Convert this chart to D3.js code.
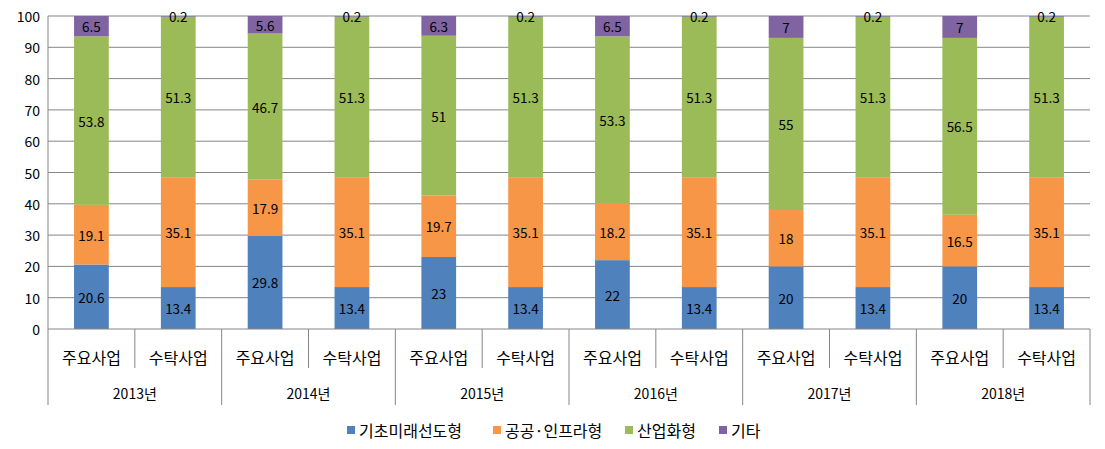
<!DOCTYPE html>
<html>
<head>
<meta charset="utf-8">
<style>
  body { margin: 0; background: #fff; }
  text { font-family: "Noto Sans CJK KR", "Noto Sans", sans-serif; fill: #000; }
</style>
</head>
<body>
<svg id="chart" width="1105" height="449"></svg>
<script src="https://cdn.jsdelivr.net/npm/d3@7"></script>
<script>
const years = ["2013년", "2014년", "2015년", "2016년", "2017년", "2018년"];
const kinds = ["주요사업", "수탁사업"];
const seriesNames = ["기초미래선도형", "공공·인프라형", "산업화형", "기타"];
const colors = ["#4F81BD", "#F79646", "#9BBB59", "#8064A2"];
const yTicks = [0, 10, 20, 30, 40, 50, 60, 70, 80, 90, 100];

// one row per bar: year x kind
const basic  = [20.6, 13.4, 29.8, 13.4, 23, 13.4, 22, 13.4, 20, 13.4, 20, 13.4];
const infra  = [19.1, 35.1, 17.9, 35.1, 19.7, 35.1, 18.2, 35.1, 18, 35.1, 16.5, 35.1];
const indust = [53.8, 51.3, 46.7, 51.3, 51, 51.3, 53.3, 51.3, 55, 51.3, 56.5, 51.3];
const other  = [6.5, 0.2, 5.6, 0.2, 6.3, 0.2, 6.5, 0.2, 7, 0.2, 7, 0.2];

const svg = d3.select("#chart");
const plotL = 48, plotR = 1090, plotT = 16, plotB = 329;

const rows = [];
years.forEach((y, i) => {
  kinds.forEach((k, j) => {
    const n = i * 2 + j;
    rows.push({ key: y + "|" + k, year: y, kind: k,
      s0: basic[n], s1: infra[n], s2: indust[n], s3: other[n] });
  });
});

const x = d3.scaleBand().domain(rows.map(d => d.key)).range([plotL, plotR]).paddingInner(0.6).paddingOuter(0.3);
const band = (plotR - plotL) / rows.length;
const yScale = d3.scaleLinear().domain([0, 100]).range([plotB, plotT]);

// gridlines
svg.append("g").selectAll("line").data(yTicks.filter(t => t > 0)).enter().append("line")
  .attr("x1", plotL).attr("x2", plotR)
  .attr("y1", d => yScale(d)).attr("y2", d => yScale(d))
  .attr("stroke", "#868686").attr("stroke-width", 1);

// y labels
svg.append("g").selectAll("text").data(yTicks).enter().append("text")
  .attr("x", 40).attr("y", d => yScale(d))
  .attr("text-anchor", "end").attr("dominant-baseline", "central")
  .attr("font-size", 14).text(d => d);

const stack = d3.stack().keys(["s0", "s1", "s2", "s3"]);
const layers = stack(rows);

const g = svg.append("g");
layers.forEach((layer, li) => {
  g.append("g").selectAll("rect").data(layer).enter().append("rect")
    .attr("x", d => x(d.data.key))
    .attr("width", x.bandwidth())
    .attr("y", d => yScale(d[1]))
    .attr("height", d => yScale(d[0]) - yScale(d[1]))
    .attr("fill", colors[li]);
});
layers.forEach((layer, li) => {
  g.append("g").selectAll("text").data(layer).enter().append("text")
    .attr("x", d => x(d.data.key) + x.bandwidth() / 2)
    .attr("y", d => (yScale(d[0]) + yScale(d[1])) / 2)
    .attr("text-anchor", "middle").attr("dominant-baseline", "central")
    .attr("font-size", 13.5)
    .text(d => d.data["s" + li]);
});

// axes lines
svg.append("line").attr("x1", plotL).attr("x2", plotL).attr("y1", plotT).attr("y2", 405)
  .attr("stroke", "#868686");
svg.append("line").attr("x1", plotL).attr("x2", plotR).attr("y1", plotB).attr("y2", plotB)
  .attr("stroke", "#868686");

// category separators
rows.forEach((d, i) => {
  const xr = plotL + band * (i + 1);
  const outer = i % 2 === 1;
  svg.append("line").attr("x1", xr).attr("x2", xr)
    .attr("y1", plotB).attr("y2", outer ? 405 : 368)
    .attr("stroke", "#868686");
});

svg.append("g").selectAll("text").data(rows).enter().append("text")
  .attr("x", d => x(d.key) + x.bandwidth() / 2)
  .attr("y", 357)
  .attr("text-anchor", "middle").attr("dominant-baseline", "central")
  .attr("font-size", 16).text(d => d.kind);

svg.append("g").selectAll("text").data(years).enter().append("text")
  .attr("x", (d, i) => plotL + band * (i * 2 + 1))
  .attr("y", 393)
  .attr("text-anchor", "middle").attr("dominant-baseline", "central")
  .attr("font-size", 14).text(d => d);

// legend
const legendX = [347, 493, 625, 719];
const lg = svg.append("g").selectAll("g").data(seriesNames).enter().append("g")
  .attr("transform", (d, i) => `translate(${legendX[i]},430)`);
lg.append("rect").attr("x", 0).attr("y", -4).attr("width", 8).attr("height", 8)
  .attr("fill", (d, i) => colors[i]);
lg.append("text").attr("x", 12).attr("y", 0).attr("dominant-baseline", "central")
  .attr("font-size", 16).text(d => d);
</script>
</body>
</html>
